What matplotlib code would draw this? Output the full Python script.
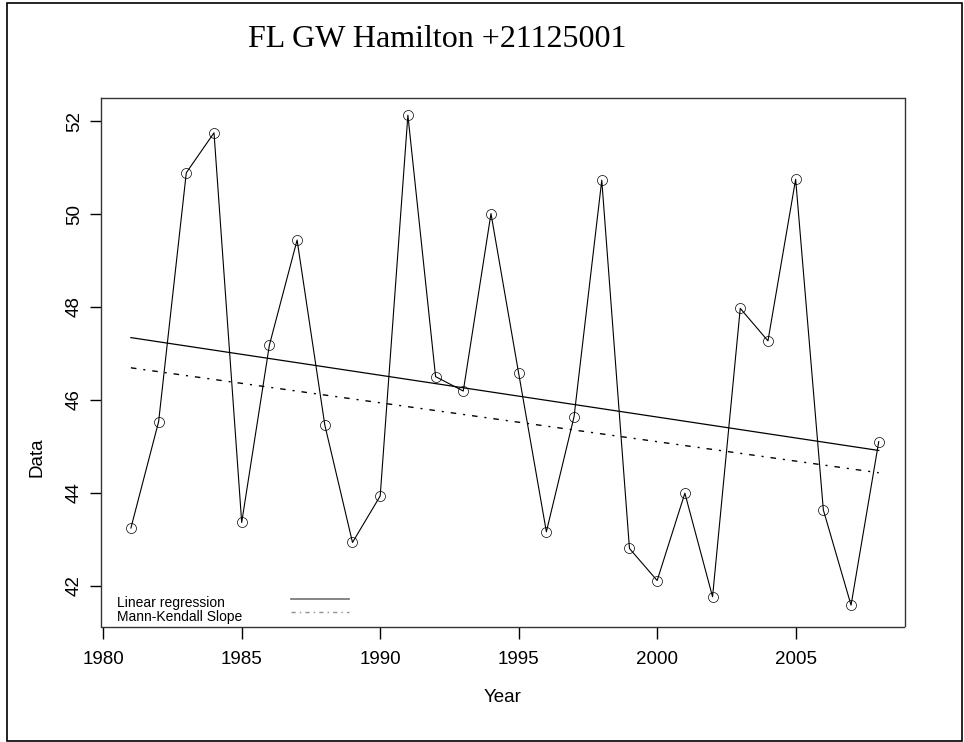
import matplotlib
matplotlib.use("Agg")
import matplotlib.pyplot as plt
from matplotlib.patches import Rectangle

years = list(range(1981, 2009))
values = [43.24, 45.53, 50.89, 51.75, 43.36, 47.18, 49.44, 45.46, 42.93, 43.93,
          52.13, 46.50, 46.19, 50.01, 46.57, 43.16, 45.64, 50.73, 42.80, 42.11,
          43.99, 41.76, 47.97, 47.27, 50.75, 43.63, 41.58, 45.10]
trend_years = [1981, 2008]
reg_values = [47.34, 44.91]
mk_values = [46.69, 44.43]
xticks = [1980, 1985, 1990, 1995, 2000, 2005]
yticks = [42, 44, 46, 48, 50, 52]
title = "FL GW Hamilton +21125001"
legend_labels = ["Linear regression", "Mann-Kendall Slope"]

W, H = 964, 742
fig = plt.figure(figsize=(W / 100, H / 100), dpi=100)
sans = ["Liberation Sans", "DejaVu Sans"]

def fx(px):
    return px / W

def fy(py):
    return 1 - py / H

# outer frame
fig.patches.append(Rectangle((fx(7), fy(741)), fx(962) - fx(7), fy(3) - fy(741),
                             transform=fig.transFigure, fill=False,
                             edgecolor="black", linewidth=1.2))

ax = fig.add_axes([fx(101), fy(626.5), fx(904.5) - fx(101), fy(97.5) - fy(626.5)])
ax.set_xlim(1979.92, 2008.93)
ax.set_ylim(41.12, 52.51)

ax.plot(years, values, color="black", linewidth=0.8, marker="o", markersize=7.2,
        markerfacecolor="none", markeredgecolor="black", markeredgewidth=0.5)
ax.plot(trend_years, reg_values, color="black", linewidth=0.9)
ax.plot(trend_years, mk_values, color="black", linewidth=1.0,
        linestyle=(0, (4, 5, 1.5, 5)))

# legend drawn inside the axes
lx0 = (117 - 101) / (904.5 - 101)
ax.text(lx0, (626.5 - 606.5) / 529.0, legend_labels[0], transform=ax.transAxes,
        fontsize=10, family=sans, va="baseline", ha="left")
ax.text(lx0, (626.5 - 620.5) / 529.0, legend_labels[1], transform=ax.transAxes,
        fontsize=10, family=sans, va="baseline", ha="left")
lxa = (291 - 101) / (904.5 - 101)
lxb = (349 - 101) / (904.5 - 101)
ax.plot([lxa, lxb], [(626.5 - 599) / 529.0] * 2, transform=ax.transAxes,
        color="#707070", linewidth=1.2)
ax.plot([lxa, lxb], [(626.5 - 612.3) / 529.0] * 2, transform=ax.transAxes,
        color="#909090", linewidth=1.0, linestyle=(0, (3, 3, 1, 3)))

ax.set_xticks(xticks)
ax.set_yticks(yticks)
ax.set_xticklabels([str(t) for t in xticks], fontsize=13.5, family=sans)
ax.set_yticklabels([str(t) for t in yticks], fontsize=13.5, family=sans,
                   rotation=90, va="center")
ax.tick_params(axis="x", direction="out", length=8.5, width=1.0, pad=9.5)
ax.tick_params(axis="y", direction="out", length=8, width=1.0, pad=5)
for s in ax.spines.values():
    s.set_linewidth(1.0)
    s.set_color("#333333")

fig.text(fx(503), fy(697.5), "Year", fontsize=13.5, family=sans, ha="center", va="center")
fig.text(fx(37), fy(457), "Data", fontsize=13.5, family=sans, ha="center", va="center",
         rotation=90)
fig.text(fx(437), fy(47), title, fontsize=23, family=["Liberation Serif", "DejaVu Serif"],
         ha="center", va="baseline")

fig.savefig("out.png", dpi=100)
